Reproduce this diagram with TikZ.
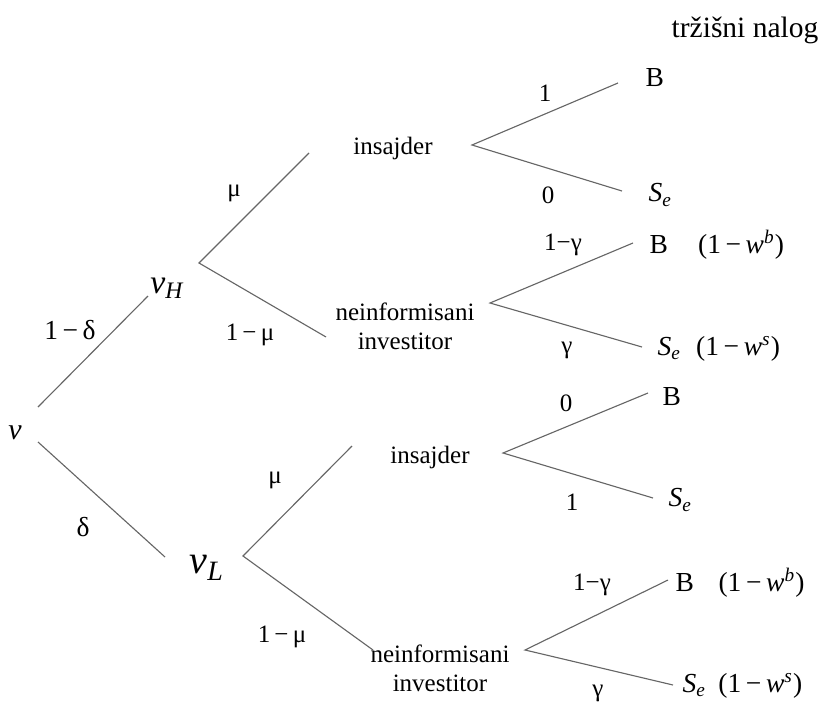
\documentclass[tikz,border=0pt]{standalone}
\usepackage{fontspec}
\setmainfont{Liberation Serif}
\usetikzlibrary{positioning}

\newcommand{\Se}{\textit{S}\textsubscript{\textit{e}}}
\newcommand{\wb}{(1\,−\,\textit{w}\textsuperscript{\textit{b}})}
\newcommand{\ws}{(1\,−\,\textit{w}\textsuperscript{\textit{s}})}

\begin{document}
\begin{tikzpicture}[x=0.4pt,y=-0.4pt,
    grana/.style={draw=black!60, line width=0.45pt},
    vjer/.style={font=\fontsize{10}{12}\selectfont, inner sep=0pt},
    igrac/.style={font=\fontsize{10}{11.5}\selectfont, align=center, inner sep=0pt},
    nalog/.style={font=\fontsize{11}{12}\selectfont, inner sep=0pt, anchor=west},
    vrij/.style={font=\fontsize{13}{14}\selectfont\itshape, inner sep=0pt}
  ]
  \useasboundingbox (0,0) rectangle (820,713);
  \node[font=\fontsize{11.8}{13}\selectfont, inner sep=0pt] (naslov) at (745,30) {tržišni nalog};

  % korijen i vrijednosti
  \node[vrij, font=\fontsize{12}{13}\selectfont\itshape] (v) at (15,433) {v};
  \node[vrij, font=\fontsize{13.5}{15}\selectfont\itshape] (vH) at (167,288) {v\textsubscript{H}};
  \node[vrij, font=\fontsize{16}{17}\selectfont\itshape] (vL) at (207,568) {v\textsubscript{L}};
  \coordinate (v1) at (38,407);
  \coordinate (v2) at (38,442);
  \coordinate (vHa) at (148,296);
  \coordinate (vLa) at (165,557);
  \draw[grana] (v1) -- (vHa);
  \draw[grana] (v2) -- (vLa);
  \node[vjer, font=\fontsize{11}{12}\selectfont] (p1d) at (70,330) {1\,−\,δ};
  \node[vjer, font=\fontsize{11}{12}\selectfont] (pd) at (83,527) {δ};

  % gornja grana
  \coordinate (fH) at (199,263);
  \coordinate (fH1) at (309,153);
  \coordinate (fH2) at (326,337);
  \draw[grana] (fH1) -- (fH) -- (fH2);
  \node[vjer] (muH) at (234,193) {μ};
  \node[vjer] (muH2) at (250,335) {1\,−\,μ};

  \node[igrac] (insH) at (393,148) {insajder};
  \coordinate (fI1) at (472,145);
  \coordinate (fI1b) at (618,83);
  \coordinate (fI1s) at (622,191);
  \draw[grana] (fI1b) -- (fI1) -- (fI1s);
  \node[vjer] (j1) at (545,93) {1};
  \node[vjer] (n1) at (548,195) {0};
  \node[nalog] (B1) at (645,78) {B};
  \node[nalog] (S1) at (648,195) {\Se};

  \node[igrac] (neH) at (405,326) {neinformisani\\investitor};
  \coordinate (fN1) at (490,303);
  \coordinate (fN1b) at (633,243);
  \coordinate (fN1s) at (642,347);
  \draw[grana] (fN1b) -- (fN1) -- (fN1s);
  \node[vjer] (g1) at (563,245) {1−γ};
  \node[vjer] (g2) at (567,350) {γ};
  \node[nalog] (B2) at (649,245) {B\hspace{1.1em}\wb};
  \node[nalog] (S2) at (657,349) {\Se\hspace{0.55em}\ws};

  % donja grana
  \coordinate (fL) at (243,556);
  \coordinate (fL1) at (352,446);
  \coordinate (fL2) at (373,650);
  \draw[grana] (fL1) -- (fL) -- (fL2);
  \node[vjer] (muL) at (275,480) {μ};
  \node[vjer] (muL2) at (282,637) {1\,−\,μ};

  \node[igrac] (insL) at (430,457) {insajder};
  \coordinate (fI2) at (503,453);
  \coordinate (fI2b) at (648,393);
  \coordinate (fI2s) at (653,498);
  \draw[grana] (fI2b) -- (fI2) -- (fI2s);
  \node[vjer] (n2) at (566,403) {0};
  \node[vjer] (j2) at (572,502) {1};
  \node[nalog] (B3) at (662,397) {B};
  \node[nalog] (S3) at (668,500) {\Se};

  \node[igrac] (neL) at (440,668) {neinformisani\\investitor};
  \coordinate (fN2) at (525,650);
  \coordinate (fN2b) at (668,580);
  \coordinate (fN2s) at (673,685);
  \draw[grana] (fN2b) -- (fN2) -- (fN2s);
  \node[vjer] (g3) at (592,585) {1−γ};
  \node[vjer] (g4) at (598,693) {γ};
  \node[nalog] (B4) at (675,583) {B\hspace{0.9em}\wb};
  \node[nalog] (S4) at (682,686) {\Se\hspace{0.45em}\ws};
\end{tikzpicture}
\end{document}
